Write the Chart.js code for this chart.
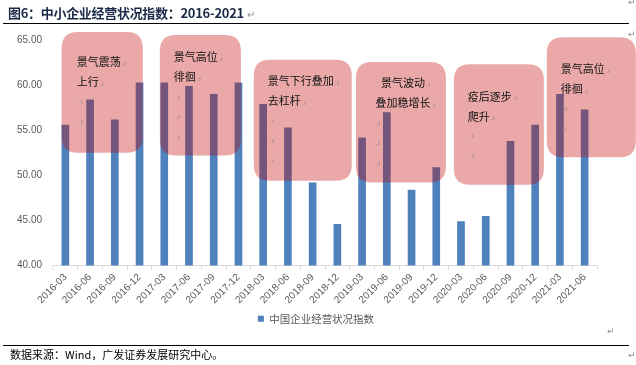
<!DOCTYPE html>
<html lang="zh-CN">
<head>
<meta charset="UTF-8">
<title>中小企业经营状况指数：2016-2021</title>
<style>
    body {
        margin: 0;
        background: #fff;
        font-family: "Noto Sans CJK SC", sans-serif;
    }
    #wrap {
        position: relative;
        width: 636px;
        height: 365px;
        overflow: hidden;
    }
    #chart {
        position: absolute;
        left: 0;
        top: 0;
    }
    .title {
        position: absolute;
        left: 8px;
        top: 3px;
        font-size: 13px;
        font-weight: bold;
        color: #1c2a48;
        white-space: nowrap;
        letter-spacing: -0.3px;
    }
    .rule {
        position: absolute;
        left: 3px;
        width: 626px;
        height: 0;
        border-top: 1.5px solid #000;
    }
    .src {
        position: absolute;
        left: 10px;
        top: 346px;
        font-size: 11px;
        color: #000;
        white-space: nowrap;
    }
    .mark {
        position: absolute;
        color: #8c8c8c;
        font-size: 9px;
        font-family: "DejaVu Sans", sans-serif;
    }
</style>
</head>
<body>
<div id="wrap">
    <canvas id="chart" width="636" height="365"></canvas>
    <div class="title">图6：中小企业经营状况指数：2016-2021 <span style="color:#8c8c8c;font-weight:normal;font-size:10px">↵</span></div>
    <div class="rule" style="top:23px"></div>
    <div class="rule" style="top:345px"></div>
    <div class="src">数据来源：Wind，广发证券发展研究中心。</div>
    <div class="mark" style="left:628px;top:-3px">↵</div>
    <div class="mark" style="left:628px;top:29px">↵</div>
    <div class="mark" style="left:607px;top:326px">↵</div>
    <div class="mark" style="left:628px;top:350px">↵</div>
</div>

<script src="https://cdn.jsdelivr.net/npm/chart.js"></script>
<script>
    // quarters on the x axis
    const quarters = [
        '2016-03', '2016-06', '2016-09', '2016-12',
        '2017-03', '2017-06', '2017-09', '2017-12',
        '2018-03', '2018-06', '2018-09', '2018-12',
        '2019-03', '2019-06', '2019-09', '2019-12',
        '2020-03', '2020-06', '2020-09', '2020-12',
        '2021-03', '2021-06'
    ];

    // 中国企业经营状况指数
    const indexValues = [
        55.6, 58.4, 56.2, 60.3,
        60.3, 59.9, 59.0, 60.3,
        57.9, 55.3, 49.2, 44.6,
        54.2, 57.0, 48.4, 50.9,
        44.9, 45.5, 53.8, 55.6,
        59.0, 57.3
    ];

    const seriesName = '中国企业经营状况指数';

    // y axis range
    const yMin = 40;
    const yMax = 65;
    const yStep = 5;

    // phase annotations: text lines, span in category units, span in value units
    const phaseText = [
        ['景气震荡', '上行'],
        ['景气高位', '徘徊'],
        ['景气下行叠加', '去杠杆'],
        ['景气波动', '叠加稳增长'],
        ['疫后逐步', '爬升'],
        ['景气高位', '徘徊']
    ];
    const phaseFrom = [-0.15, 3.82, 7.62, 11.75, 15.71, 19.47];
    const phaseTo = [3.13, 7.10, 11.58, 15.39, 19.35, 23.07];
    const phaseHigh = [65.9, 65.55, 62.8, 62.55, 62.3, 65.3];
    const phaseLow = [52.5, 52.2, 49.4, 49.2, 48.95, 52.0];

    // text placement inside each box (px from the box corner)
    const phaseLayout = [
        { dx: 15, dy: 30, align: 'left', blanks: 2 },
        { dx: 14, dy: 22, align: 'left', blanks: 3 },
        { dx: 14, dy: 21, align: 'left', blanks: 3 },
        { dx: 0, dy: 21, align: 'center', blanks: 3 },
        { dx: 14, dy: 32, align: 'left', blanks: 2 },
        { dx: 14, dy: 32, align: 'left', blanks: 2 }
    ];

    function roundRect(ctx, x, y, w, h, r) {
        ctx.beginPath();
        ctx.moveTo(x + r, y);
        ctx.lineTo(x + w - r, y);
        ctx.quadraticCurveTo(x + w, y, x + w, y + r);
        ctx.lineTo(x + w, y + h - r);
        ctx.quadraticCurveTo(x + w, y + h, x + w - r, y + h);
        ctx.lineTo(x + r, y + h);
        ctx.quadraticCurveTo(x, y + h, x, y + h - r);
        ctx.lineTo(x, y + r);
        ctx.quadraticCurveTo(x, y, x + r, y);
        ctx.closePath();
    }

    // draws the pink rounded boxes over the bars
    const phaseBoxes = {
        id: 'phaseBoxes',
        afterDatasetsDraw(chart) {
            const { ctx, scales: { x, y } } = chart;
            const x0 = x.getPixelForValue(0);
            const step = x.getPixelForValue(1) - x0;
            const lineGap = 20;
            ctx.save();
            phaseText.forEach((lines, i) => {
                const left = x0 + phaseFrom[i] * step;
                const right = x0 + phaseTo[i] * step;
                const top = y.getPixelForValue(phaseHigh[i]);
                const bottom = y.getPixelForValue(phaseLow[i]);
                roundRect(ctx, left, top, right - left, bottom - top, 16);
                ctx.fillStyle = 'rgba(192, 0, 0, 0.34)';
                ctx.fill();

                const lay = phaseLayout[i];
                const tx = lay.align === 'center' ? (left + right) / 2 + 2 : left + lay.dx;
                ctx.textBaseline = 'middle';
                lines.forEach((t, k) => {
                    const ty = top + lay.dy + k * lineGap;
                    ctx.font = '11px "Noto Sans CJK SC"';
                    ctx.fillStyle = '#111';
                    ctx.textAlign = lay.align;
                    ctx.fillText(t, tx, ty);
                    const w = ctx.measureText(t).width;
                    const endX = lay.align === 'center' ? tx + w / 2 : tx + w;
                    ctx.font = '7px "DejaVu Sans"';
                    ctx.fillStyle = '#7f7f7f';
                    ctx.textAlign = 'left';
                    ctx.fillText('.ı', endX + 1, ty + 2);
                });
                // empty paragraph marks below the text
                const markX = lay.align === 'center' ? left + 20 : tx + 2;
                for (let k = 0; k < lay.blanks; k++) {
                    const ty = top + lay.dy + (lines.length + k) * lineGap;
                    ctx.font = '7px "DejaVu Sans"';
                    ctx.fillStyle = '#7f7f7f';
                    ctx.textAlign = 'left';
                    ctx.fillText('.ı', markX, ty);
                }
            });
            ctx.restore();
        }
    };

    const ctx = document.getElementById('chart').getContext('2d');
    new Chart(ctx, {
        type: 'bar',
        data: {
            labels: quarters,
            datasets: [{
                label: seriesName,
                data: indexValues,
                backgroundColor: '#4f81bd',
                borderWidth: 0,
                categoryPercentage: 1,
                barPercentage: 0.31
            }]
        },
        options: {
            responsive: false,
            animation: false,
            layout: {
                padding: { left: 10, right: 14, top: 40, bottom: 31 }
            },
            scales: {
                x: {
                    grid: {
                        display: true,
                        drawOnChartArea: false,
                        drawTicks: true,
                        tickLength: 4,
                        color: '#d9d9d9'
                    },
                    border: { display: true, color: '#d9d9d9' },
                    ticks: {
                        autoSkip: false,
                        maxRotation: 45,
                        minRotation: 45,
                        padding: 2,
                        color: '#595959',
                        font: { family: '"Liberation Sans", Arial', size: 10 }
                    },
                    afterFit: s => { s.height = 40; }
                },
                y: {
                    min: yMin,
                    max: yMax,
                    grid: { display: false },
                    border: { display: false },
                    ticks: {
                        stepSize: yStep,
                        padding: 3,
                        color: '#595959',
                        font: { family: '"Liberation Sans", Arial', size: 10 },
                        callback: v => v.toFixed(2)
                    },
                    afterFit: s => { s.width = 43; }
                },
                // empty right-hand spacer so the legend sits where the original has it
                spacer: {
                    type: 'linear',
                    position: 'right',
                    grid: { display: false },
                    border: { display: false },
                    ticks: { display: false },
                    afterFit: s => { s.width = 25; }
                }
            },
            plugins: {
                legend: {
                    position: 'bottom',
                    labels: {
                        boxWidth: 6,
                        boxHeight: 6,
                        padding: 8,
                        color: '#595959',
                        font: { family: '"Noto Sans CJK SC"', size: 10.5 }
                    }
                },
                tooltip: { enabled: false }
            }
        },
        plugins: [phaseBoxes]
    });
</script>
</body>
</html>
